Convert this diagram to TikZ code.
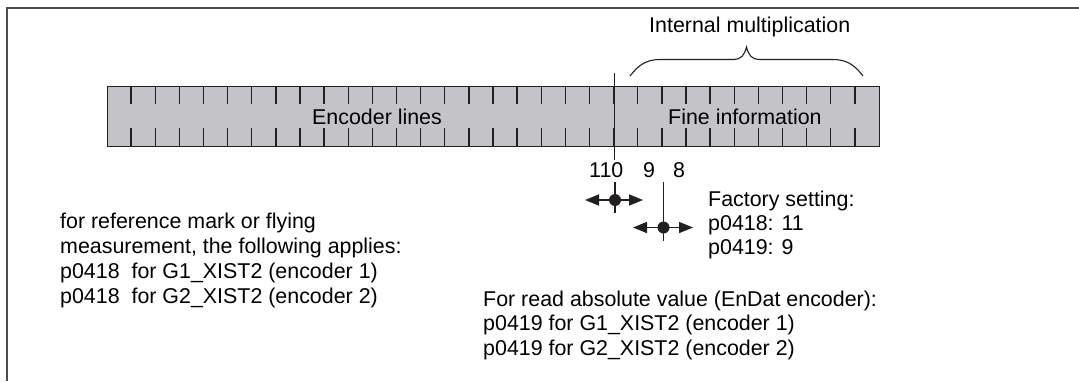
\documentclass[tikz,border=0pt]{standalone}
\usepackage{fontspec}
\setmainfont{Liberation Sans}
\usetikzlibrary{arrows.meta}
\definecolor{barfill}{RGB}{196,195,200}
\definecolor{ink}{RGB}{35,31,32}
\begin{document}
\begin{tikzpicture}[x=1pt,y=-1pt,
  lbl/.style={inner sep=0pt, anchor=base west, font=\fontsize{21.4}{24.6}\selectfont, text=black},
  barbox/.style={draw=ink, line width=1.3pt, fill=barfill, inner sep=0pt, anchor=north west, minimum width=772pt, minimum height=60pt},
  tickline/.style={draw=ink, line width=1.4pt},
  frameline/.style={draw=black!70, line width=1.6pt},
  crossarrow/.style={draw=ink, line width=1.7pt, {Triangle[length=14pt,width=11pt]}-{Triangle[length=14pt,width=11pt]}},
  crossline/.style={draw=ink, line width=1.7pt},
  dot/.style={circle, fill=ink, inner sep=0pt, minimum size=12pt},
]
\useasboundingbox (0,0) rectangle (1079,381);
% frame
\draw[frameline] (1079,8) -- (7,8) -- (7,381);
% bar
\node[barbox] (bar) at (107,86) {};
\foreach \k in {1,...,31} {
  \draw[tickline] ({107+\k*24.125},86) -- ++(0,18);
  \draw[tickline] ({107+\k*24.125},146) -- ++(0,-18);
}
% divider
\coordinate (divtop) at (614,73);
\coordinate (divbot) at (614,160);
\draw[draw=ink, line width=1pt] (divtop) -- (divbot);
% labels in bar
\node[lbl] (enc) at (312,124) {Encoder lines};
\node[lbl] (fine) at (668,124) {Fine information};
% brace
\draw[draw=ink, line width=1.1pt] (630,76) .. controls (640,63) and (648,59.5) .. (661,59.5) -- (734,59.5) .. controls (741,59.5) and (744.5,55) .. (746.5,47) .. controls (748.5,55) and (752,59.5) .. (759,59.5) -- (832,59.5) .. controls (845,59.5) and (853,63) .. (863,76);
\node[lbl] (intmul) at (649,32) {Internal multiplication};
% bit numbers
\node[lbl] (n110) at (589,177) {110};
\node[lbl] (n9) at (643,177) {9};
\node[lbl] (n8) at (673,177) {8};
% crosshair 1
\coordinate (c1t) at (615,182);
\coordinate (c1b) at (615,213);
\coordinate (c1l) at (585,200);
\coordinate (c1r) at (643,200);
\draw[crossline] (c1t) -- (c1b);
\draw[crossarrow] (c1l) -- (c1r);
\node[dot] (d1) at (615,200) {};
% crosshair 2
\coordinate (c2t) at (663.5,182);
\coordinate (c2b) at (663.5,241);
\coordinate (c2l) at (633,227.5);
\coordinate (c2r) at (693,227.5);
\draw[crossline] (c2t) -- (c2b);
\draw[crossarrow] (c2l) -- (c2r);
\node[dot] (d2) at (663.5,227.5) {};
% factory setting
\node[lbl] (fac1) at (708,206.5) {Factory setting:};
\node[lbl] (fac2) at (708,230.5) {p0418: 11};
\node[lbl] (fac3) at (708,254.5) {p0419: 9};
% left block
\node[lbl] (left1) at (60,228) {for reference mark or flying};
\node[lbl] (left2) at (60,253) {measurement, the following applies:};
\node[lbl] (left3) at (60,278) {p0418\ \ for G1\_XIST2 (encoder 1)};
\node[lbl] (left4) at (60,303) {p0418\ \ for G2\_XIST2 (encoder 2)};
% absolute value block
\node[lbl] (abs1) at (483,306) {For read absolute value (EnDat encoder):};
\node[lbl] (abs2) at (483,330.5) {p0419 for G1\_XIST2 (encoder 1)};
\node[lbl] (abs3) at (483,355) {p0419 for G2\_XIST2 (encoder 2)};
\end{tikzpicture}
\end{document}
